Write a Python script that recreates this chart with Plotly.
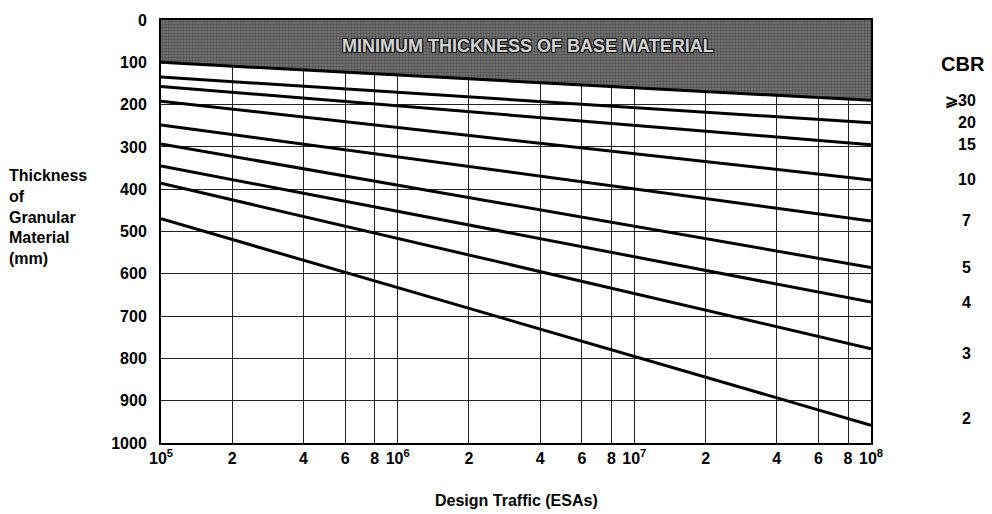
import plotly.graph_objects as go

# Design traffic range (ESAs) and thickness curves for each subgrade CBR
traffic = [1e5, 1e8]
cbr_labels = ["⩾30", "20", "15", "10", "7", "5", "4", "3", "2"]
thickness_start = [100, 135, 157, 192, 248, 293, 345, 386, 470]   # mm at 1e5 ESAs
thickness_end = [190, 243, 295, 378, 475, 585, 667, 777, 958]     # mm at 1e8 ESAs

x_tickvals = [1e5, 2e5, 4e5, 6e5, 8e5, 1e6, 2e6, 4e6, 6e6, 8e6, 1e7,
              2e7, 4e7, 6e7, 8e7, 1e8]
x_ticktext = ["10<sup>5</sup>", "2", "4", "6", "8", "10<sup>6</sup>", "2", "4", "6", "8",
              "10<sup>7</sup>", "2", "4", "6", "8", "10<sup>8</sup>"]
y_tickvals = list(range(0, 1001, 100))

FONT = "Liberation Sans, Arial, sans-serif"

fig = go.Figure()

# Shaded band: minimum thickness of base material (top edge of chart down to CBR>=30 line)
fig.add_trace(go.Scatter(x=traffic, y=[0, 0], mode="lines",
                         line=dict(width=0), showlegend=False, hoverinfo="skip"))
fig.add_trace(go.Scatter(
    x=traffic, y=[thickness_start[0], thickness_end[0]], mode="lines",
    line=dict(color="black", width=3), fill="tonexty",
    fillcolor="#666666",
    fillpattern=dict(shape=".", fgcolor="#1c1c1c", bgcolor="#7d7d7d", size=3, solidity=0.5),
    showlegend=False, hoverinfo="skip"))

# Remaining CBR curves
for lbl, y0, y1 in zip(cbr_labels[1:], thickness_start[1:], thickness_end[1:]):
    fig.add_trace(go.Scatter(x=traffic, y=[y0, y1], mode="lines",
                             line=dict(color="black", width=3),
                             name="CBR " + lbl, showlegend=False))

# Right-hand CBR labels placed at each curve's end
label_shift = {"3": -5, "2": 7}
for lbl, y1 in zip(cbr_labels, thickness_end):
    if lbl.startswith("⩾"):
        xpos, anchor = 1.1507, "right"
    else:
        xpos, anchor = 1.135, "center"
    fig.add_annotation(x=xpos, xref="paper", y=y1, yref="y", text=lbl,
                       showarrow=False, xanchor=anchor, yanchor="middle",
                       yshift=label_shift.get(lbl, 0),
                       font=dict(family=FONT, size=16, color="black", weight="bold"))
fig.add_annotation(x=1.1296, xref="paper", y=1.0, yref="paper", text="CBR",
                   showarrow=False, xanchor="center", yanchor="middle", yshift=-44,
                   font=dict(family=FONT, size=20, color="black", weight="bold"))

# Band caption
fig.add_annotation(x=6.55, xref="x", y=62, yref="y",
                   text="MINIMUM THICKNESS OF BASE MATERIAL", showarrow=False,
                   font=dict(family=FONT, size=18, color="#d4d4d4", weight="bold",
                             shadow="1px 1px 0 #111, -1px -1px 0 #111, 1px -1px 0 #111, -1px 1px 0 #111"))

# Y-axis title at far left
fig.add_annotation(x=-0.217, xref="paper", y=0.534, yref="paper",
                   text="Thickness<br>of<br>Granular<br>Material<br>(mm)",
                   showarrow=False, xanchor="left", yanchor="middle", align="left",
                   font=dict(family=FONT, size=16, color="black", weight="bold"))

# X-axis title
fig.add_annotation(x=0.501, xref="paper", y=-0.135, yref="paper",
                   text="Design Traffic (ESAs)", showarrow=False,
                   xanchor="center", yanchor="middle",
                   font=dict(family=FONT, size=16, color="black", weight="bold"))

fig.update_xaxes(type="log", range=[5, 8], tickvals=x_tickvals, ticktext=x_ticktext,
                 showgrid=True, gridcolor="#222", gridwidth=1.2,
                 showline=True, linecolor="black", linewidth=2, mirror=True,
                 ticks="", tickfont=dict(family=FONT, size=16, color="black", weight="bold"),
                 zeroline=False)
fig.update_yaxes(range=[1000, 0], tickvals=y_tickvals,
                 showgrid=True, gridcolor="#222", gridwidth=1.2,
                 showline=True, linecolor="black", linewidth=2, mirror=True,
                 ticks="", ticklabelstandoff=9,
                 tickfont=dict(family=FONT, size=16, color="black", weight="bold"),
                 zeroline=False)

fig.update_layout(width=992, height=514,
                  margin=dict(l=161, r=121, t=20, b=71),
                  paper_bgcolor="white", plot_bgcolor="white",
                  showlegend=False)

fig.write_html("out.html")
